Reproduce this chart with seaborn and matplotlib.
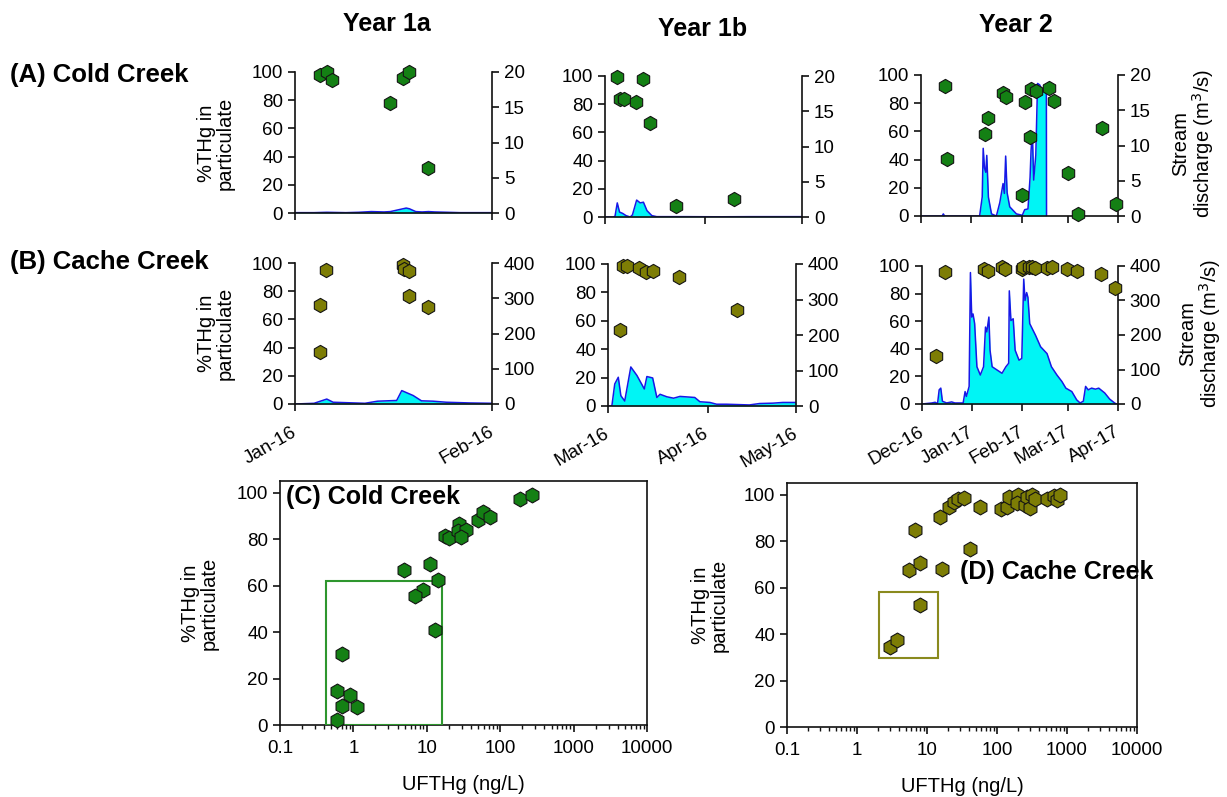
import numpy as np
import pandas as pd
import matplotlib
matplotlib.use("Agg")
import matplotlib.pyplot as plt
import matplotlib.dates as mdates
import matplotlib.transforms as mtransforms
from matplotlib.patches import Rectangle
from matplotlib.ticker import LogLocator, NullFormatter, FixedLocator
import seaborn as sns

# ---------------- DATA ----------------
# Year 1a (start 2016-01-01) - sample dates and %THg in particulate
cold1a_dates = ["2016-01-04 21:00", "2016-01-06 00:00", "2016-01-06 21:00", "2016-01-15 21:00",
                "2016-01-18 00:00", "2016-01-18 21:00", "2016-01-22 00:00"]
cold1a_pct = [97.6, 100, 94, 78, 96, 100, 31.8]
cache1a_dates = ["2016-01-04 21:00", "2016-01-04 21:00", "2016-01-05 21:00", "2016-01-18 00:00",
                 "2016-01-18 03:00", "2016-01-18 21:00", "2016-01-18 21:00", "2016-01-21 21:00"]
cache1a_pct = [70.4, 37.2, 95.3, 98.8, 95.7, 94.0, 76.3, 68.5]
# discharge, day of period (from 2016-01-01)
cold1a_q_day = [0, 3, 5, 8, 10, 12, 14, 15, 16, 17, 17.5, 18, 19, 20, 21, 22, 24, 26, 28, 31]
cold1a_q = [0.05, 0.05, 0.1, 0.05, 0.1, 0.2, 0.15, 0.2, 0.4, 0.6, 0.7, 0.6, 0.2, 0.15, 0.2, 0.15, 0.1, 0.05, 0.05, 0.05]
cache1a_q_day = [0, 3, 5, 6, 11, 13, 16, 16.8, 18.6, 19.9, 21.7, 23.8, 27.5, 31]
cache1a_q = [0, 2, 14, 5, 2, 8, 10, 38, 24, 9, 8, 5, 3, 2]

# Year 1b (start 2016-03-01)
cold1b_dates = ["2016-03-04 19:00", "2016-03-05 17:00", "2016-03-06 22:00", "2016-03-10 17:00",
                "2016-03-12 22:00", "2016-03-15 00:00", "2016-03-22 22:00", "2016-04-10 00:00"]
cold1b_pct = [99, 84, 83.6, 81.3, 97.6, 66.8, 7.6, 12.8]
cache1b_dates = ["2016-03-04 19:00", "2016-03-05 14:00", "2016-03-06 22:00", "2016-03-10 19:00",
                 "2016-03-12 17:00", "2016-03-14 22:00", "2016-03-23 00:00", "2016-04-10 00:00"]
cache1b_pct = [53.2, 98.8, 98.6, 96.9, 94.1, 95.0, 90.5, 67.4]
cold1b_q_day = [0, 2.5, 3.1, 3.8, 4.5, 5.5, 6.5, 7.8, 8.5, 9.8, 10.9, 11.9, 13.0, 14.5, 16.0, 25, 35, 45, 55, 61]
cold1b_q = [0, 0, 0.1, 2.0, 0.7, 0.5, 0.2, 0, 0.3, 2.4, 2.0, 2.1, 0.9, 0.2, 0.05, 0.05, 0.03, 0.05, 0.05, 0.05]
cache1b_q_day = [0, 1.2, 2.1, 3.2, 4.0, 5.2, 7.1, 9.0, 11.3, 12.1, 13.9, 15.2, 16.2, 18.3, 20.4, 22.4,
                 27.0, 28.6, 31.7, 33.8, 36.9, 44.0, 47.2, 51.3, 54.4, 58.5]
cache1b_q = [0, 0, 62, 81, 29, 14, 110, 86, 48, 83, 79, 24, 33, 26, 22, 27, 24, 12, 10, 5, 5, 3, 7, 8, 10, 10]

# Year 2 (start 2016-12-01)
cold2_dates = ["2016-12-15 17:00", "2016-12-16 17:00", "2017-01-09 05:00", "2017-01-11 05:00",
               "2017-01-20 10:00", "2017-01-22 00:00", "2017-02-03 00:00", "2017-02-01 05:00",
               "2017-02-06 02:00", "2017-02-06 19:00", "2017-02-09 10:00", "2017-02-17 10:00",
               "2017-02-20 10:00", "2017-03-01 05:00", "2017-03-07 07:00", "2017-03-22 05:00",
               "2017-03-30 19:00"]
cold2_pct = [92.4, 40.3, 58, 69.2, 87, 84.6, 80.6, 14.7, 55.7, 89.8, 88.6, 90.5, 81.8, 30.6, 1.7, 62.6, 8.3]
cache2_dates = ["2016-12-09 17:00", "2016-12-15 05:00", "2017-01-08 14:00", "2017-01-10 17:00",
                "2017-01-19 10:00", "2017-01-21 10:00", "2017-01-31 14:00", "2017-02-01 14:00",
                "2017-02-05 00:00", "2017-02-06 17:00", "2017-02-08 17:00", "2017-02-16 05:00",
                "2017-02-19 07:00", "2017-02-28 10:00", "2017-03-06 12:00", "2017-03-21 10:00",
                "2017-03-29 22:00"]
cache2_pct = [34.5, 95.9, 97.6, 96.6, 99.5, 97.6, 97.6, 99.5, 99.5, 99, 98.3, 98.8, 99, 97.8, 96.4, 94.2, 84.3]
cold2_q_day = [0, 13.0, 13.7, 14.5, 36.0, 37.6, 38.2, 39.0, 39.8, 40.4, 41.4, 43.3, 46.3, 48.4, 50.4, 51.2,
               52.0, 52.9, 54.5, 58.6, 62.2, 63.7, 65.7, 67.0, 67.6, 68.4, 69.2, 70.5, 71.6, 72.9, 74.5, 77.0, 77.1]
cold2_q = [0, 0, 0.3, 0, 0, 2.7, 9.6, 6.8, 6.2, 8.6, 2.7, 0.3, 0, 1.9, 4.6, 3.2,
           8.5, 3.3, 1.3, 0.3, 0.1, 0.9, 1.0, 5.5, 9.3, 11.8, 5.1, 8.6, 18.8, 18.6, 17.8, 17.6, 0]
cache2_q_day = [0, 6.1, 8.1, 9.6, 10.6, 11.6, 12.6, 15.2, 18.3, 20.3, 25.4, 26.6, 27.4, 29.1, 29.9, 30.7,
                31.5, 32.5, 33.9, 36.0, 38.0, 39.2, 40.0, 41.3, 42.0, 43.3, 47.8, 49.4, 51.8, 53.5, 53.9,
                54.9, 56.3, 57.5, 59.9, 61.6, 62.8, 63.6, 64.6, 65.4, 66.5, 70.1, 73.2, 77.2, 79.9, 83.3,
                86.4, 88.8, 92.5, 95.5, 97.6, 99.6, 101.0, 102.6, 104.7, 107.1, 109.1, 112.8, 115.9, 118.9, 120.0]
cache2_q = [0, 3, 5, 1, 41, 46, 8, 3, 6, 3, 3, 36, 22, 51, 381, 252,
            261, 233, 108, 84, 108, 223, 209, 252, 156, 108, 94, 89, 108, 118, 328,
            242, 247, 156, 127, 132, 362, 300, 323, 309, 233, 199, 166, 146, 108, 84,
            65, 46, 36, 12, 3, 8, 51, 41, 46, 43, 46, 32, 14, 3, 0]

# Bottom panels: UFTHg (ng/L) vs %THg in particulate
cold_uf = [0.69, 0.59, 0.90, 0.69, 1.11, 0.59, 4.96, 10.9, 14.1, 9.0, 6.9, 13.0, 17.8, 20.3, 27.6,
           26.4, 34.4, 29.3, 49.5, 58, 71.6, 184, 270]
cold_pct = [30.7, 14.7, 13.1, 8.3, 7.9, 2.1, 66.7, 69.3, 62.4, 57.9, 55.3, 40.7, 81.4, 80.4, 86.7,
            83.6, 83.9, 81, 88.3, 91.7, 89.6, 97.4, 98.9]
cache_uf = [2.99, 3.73, 8.03, 5.47, 7.86, 16.4, 6.67, 41.6, 15.5, 20.4, 24, 27.4, 33.4, 57.8, 114,
            139, 147, 197, 193, 254, 269, 299, 316, 353, 518, 645, 720, 785]
cache_pct = [34.4, 37.6, 52.7, 67.4, 70.6, 68.1, 84.9, 76.8, 90.4, 94.7, 96.8, 98.3, 98.6, 94.7, 93.7,
             94.7, 99, 99.7, 96.6, 95.4, 99, 94.3, 99.7, 98.3, 98.3, 99.4, 97.8, 100]
cold_box = (0.42, 16.0, 0, 62)      # x0, x1, y0, y1
cache_box = (2.08, 14.2, 29.7, 58.1)

log_ticks = [0.1, 1, 10, 100, 1000, 10000]
log_labels = ["0.1", "1", "10", "100", "1000", "10000"]

# ---------------- STYLE ----------------
sns.set_style("ticks")
plt.rcParams['font.family'] = ['Liberation Sans', 'DejaVu Sans']
plt.rcParams['axes.linewidth'] = 1.2
plt.rcParams['axes.edgecolor'] = '#111111'
plt.rcParams['text.color'] = 'black'
plt.rcParams['xtick.color'] = '#111111'
plt.rcParams['ytick.color'] = '#111111'
plt.rcParams['xtick.labelcolor'] = 'black'
plt.rcParams['ytick.labelcolor'] = 'black'
plt.rcParams['xtick.major.width'] = 1.2
plt.rcParams['ytick.major.width'] = 1.2
plt.rcParams['xtick.major.size'] = 5
plt.rcParams['ytick.major.size'] = 5

GREEN = '#148014'
OLIVE = '#7d7d05'
EDGE = '#141414'
FILL = '#00f5f5'
LINE = '#1818e6'
TICK_FS = 13.5

W, H = 1227, 797
fig = plt.figure(figsize=(W / 100, H / 100), dpi=100)


def to_num(dates):
    return mdates.date2num(pd.to_datetime(pd.Series(dates), format='mixed').dt.to_pydatetime())


def add_axes_px(l, t, r, b):
    return fig.add_axes([l / W, 1 - b / H, (r - l) / W, (b - t) / H])


def ftext(x, y, s, **kw):
    fig.text(x / W, 1 - y / H, s, **kw)


def time_panel(box, start, end, tick_dates, tick_labels, pdates, pvals, qday, qvals, qmax, qstep, color):
    ax = add_axes_px(*box)
    ax2 = ax.twinx()
    t0 = to_num([start])[0]
    qn = t0 + np.array(qday, dtype=float)
    ax2.fill_between(qn, qvals, 0, color=FILL, lw=0)
    sns.lineplot(x=qn, y=qvals, ax=ax2, color=LINE, lw=1.1, sort=False)
    pn = to_num(pdates)
    sns.scatterplot(x=pn, y=pvals, ax=ax, marker='h', s=105, color=color, edgecolor=EDGE,
                    linewidth=0.8, zorder=5, clip_on=False)
    ax.set_zorder(ax2.get_zorder() + 1)
    ax.patch.set_visible(False)
    ax.set_xlim(t0, to_num([end])[0])
    ax.set_ylim(0, 100)
    ax2.set_ylim(0, qmax)
    ax.set_yticks(range(0, 101, 20))
    ax2.set_yticks(np.arange(0, qmax + 1, qstep))
    ax.set_xticks(to_num(tick_dates))
    if tick_labels:
        ax.set_xticklabels(tick_labels, rotation=30, ha='right', rotation_mode='anchor', fontsize=13.5)
        ax.tick_params(axis='x', pad=9)
        shift = mtransforms.ScaledTranslation(-4 / 100, 0, fig.dpi_scale_trans)
        for lab in ax.get_xticklabels():
            lab.set_transform(lab.get_transform() + shift)
    else:
        ax.set_xticklabels([])
    for a in (ax, ax2):
        a.set_xlabel('')
        a.set_ylabel('')
        a.tick_params(axis='y', labelsize=TICK_FS)
    ax.spines['top'].set_visible(False)
    ax.spines['right'].set_visible(False)
    ax2.spines['top'].set_visible(False)
    ax2.spines['left'].set_visible(False)
    ax2.spines['bottom'].set_visible(False)
    return ax, ax2


# Row A
time_panel((295, 72, 492, 213), "2016-01-01", "2016-02-01", ["2016-01-01", "2016-02-01"], None,
           cold1a_dates, cold1a_pct, cold1a_q_day, cold1a_q, 20, 5, GREEN)
time_panel((605, 76, 802, 217), "2016-03-01", "2016-05-01", ["2016-03-01", "2016-04-01", "2016-05-01"], None,
           cold1b_dates, cold1b_pct, cold1b_q_day, cold1b_q, 20, 5, GREEN)
time_panel((921, 75, 1118, 216), "2016-12-01", "2017-04-01",
           ["2016-12-01", "2017-01-01", "2017-02-01", "2017-03-01", "2017-04-01"], None,
           cold2_dates, cold2_pct, cold2_q_day, cold2_q, 20, 5, GREEN)
# Row B
time_panel((295, 263, 492, 404), "2016-01-01", "2016-02-01", ["2016-01-01", "2016-02-01"],
           ["Jan-16", "Feb-16"],
           cache1a_dates, cache1a_pct, cache1a_q_day, cache1a_q, 400, 100, OLIVE)
time_panel((608, 264, 796, 406), "2016-03-01", "2016-04-28 12:00",
           ["2016-03-01", "2016-04-01", "2016-04-28 12:00"], ["Mar-16", "Apr-16", "May-16"],
           cache1b_dates, cache1b_pct, cache1b_q_day, cache1b_q, 400, 100, OLIVE)
time_panel((922, 266, 1118, 404), "2016-12-01", "2017-04-01",
           ["2016-12-01", "2017-01-01", "2017-02-01", "2017-03-01", "2017-04-01"],
           ["Dec-16", "Jan-17", "Feb-17", "Mar-17", "Apr-17"],
           cache2_dates, cache2_pct, cache2_q_day, cache2_q, 400, 100, OLIVE)


def scatter_panel(box, xs, ys, color, rect, rect_color, label, label_xy):
    ax = add_axes_px(*box)
    sns.scatterplot(x=xs, y=ys, ax=ax, marker='h', s=115, color=color, edgecolor=EDGE,
                    linewidth=0.8, zorder=5, clip_on=False)
    ax.set_xscale('log')
    ax.set_xlim(0.1, 10000)
    ax.set_ylim(0, 105)
    ax.set_yticks(range(0, 101, 20))
    ax.xaxis.set_major_locator(FixedLocator(log_ticks))
    ax.set_xticklabels(log_labels)
    ax.xaxis.set_minor_locator(LogLocator(base=10, subs=np.arange(2, 10)))
    ax.xaxis.set_minor_formatter(NullFormatter())
    ax.tick_params(axis='x', which='minor', length=3, width=1.0, bottom=True)
    ax.tick_params(labelsize=TICK_FS)
    ax.tick_params(axis='x', pad=6)
    x0, x1, y0, y1 = rect
    ax.add_patch(Rectangle((x0, y0), x1 - x0, y1 - y0, fill=False, edgecolor=rect_color, lw=1.5, zorder=3))
    ax.text(label_xy[0], label_xy[1], label, transform=ax.transAxes, fontsize=18, fontweight='bold',
            va='center', ha='left', zorder=6)
    ax.set_xlabel('')
    ax.set_ylabel('')
    for s in ax.spines.values():
        s.set_visible(True)
    return ax


scatter_panel((280, 481, 647, 725), cold_uf, cold_pct, GREEN, cold_box, '#2e962e', "(C) Cold Creek", (0.016, 0.934))
scatter_panel((787, 483, 1137, 727), cache_uf, cache_pct, OLIVE, cache_box, '#8a8a1e', "(D) Cache Creek", (0.494, 0.635))

# ---------------- TEXT ----------------
ftext(387, 24, "Year 1a", fontsize=18, fontweight='bold', ha='center', va='center')
ftext(703, 29, "Year 1b", fontsize=18, fontweight='bold', ha='center', va='center')
ftext(1016, 25, "Year 2", fontsize=18, fontweight='bold', ha='center', va='center')

ftext(10, 75, "(A) Cold Creek", fontsize=18.5, fontweight='bold', ha='left', va='center')
ftext(10, 262, "(B) Cache Creek", fontsize=18.5, fontweight='bold', ha='left', va='center')

ylab = "%THg in\nparticulate"
for (x, y) in [(216, 143), (216, 333), (200, 603), (710, 605)]:
    ftext(x, y, ylab, fontsize=14.5, rotation=90, ha='center', va='center', multialignment='center',
          linespacing=1.0)
qlab = "Stream\ndischarge (m$^3$/s)"
for (x, y) in [(1194, 143), (1201, 333)]:
    ftext(x, y, qlab, fontsize=14.5, rotation=90, ha='center', va='center', multialignment='center',
          linespacing=1.0)
for (x, y) in [(463, 785), (962, 787)]:
    ftext(x, y, "UFTHg (ng/L)", fontsize=14.5, ha='center', va='center')

fig.savefig("out.png", dpi=100)
